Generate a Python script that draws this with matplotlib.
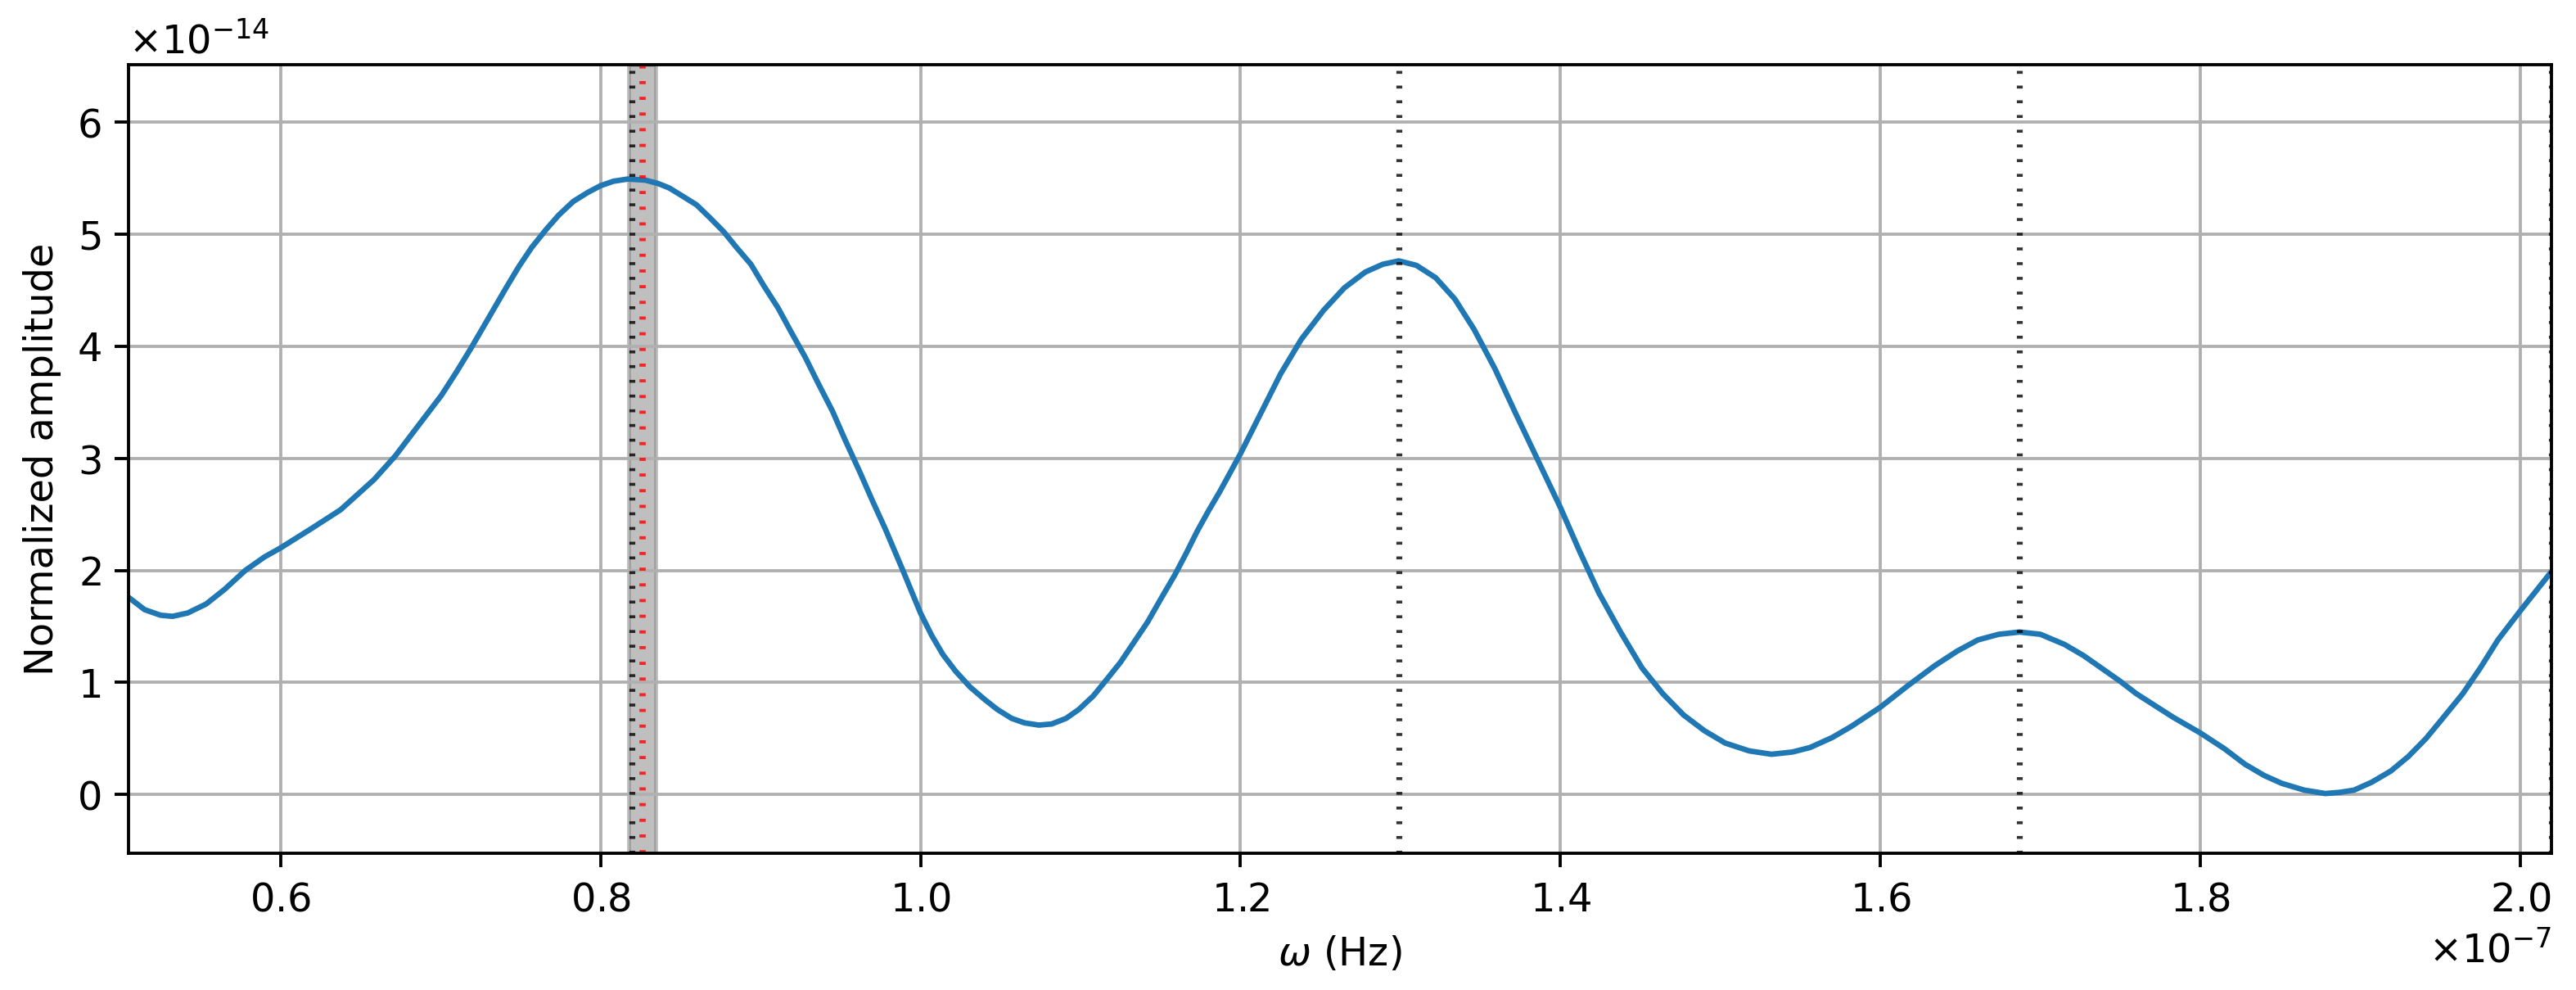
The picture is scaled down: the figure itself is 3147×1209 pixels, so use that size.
import numpy as np
import matplotlib
matplotlib.use('Agg')
import matplotlib.pyplot as plt

# Frequency axis (units of 1e-7 Hz) and normalized amplitude (units of 1e-14)
freq = [0.505, 0.515, 0.525, 0.5325, 0.542, 0.5535, 0.565, 0.578, 0.59, 0.60,
        0.619, 0.6375, 0.6585, 0.6717, 0.685, 0.7005, 0.710, 0.719, 0.732, 0.741,
        0.749, 0.757, 0.766, 0.774, 0.783, 0.792, 0.800, 0.808, 0.817, 0.828,
        0.836, 0.843, 0.851, 0.860, 0.868, 0.877, 0.885, 0.894, 0.902, 0.911,
        0.919, 0.928, 0.936, 0.945, 0.953, 0.962, 0.970, 0.978, 0.989, 1.0,
        1.007, 1.014, 1.022, 1.031, 1.040, 1.048, 1.057, 1.065, 1.074, 1.082,
        1.091, 1.099, 1.108, 1.116, 1.125, 1.133, 1.142, 1.150, 1.159, 1.166,
        1.173, 1.180, 1.187, 1.2, 1.212, 1.225, 1.238, 1.252, 1.265, 1.278,
        1.289, 1.299, 1.31, 1.322, 1.334, 1.346, 1.359, 1.372, 1.386, 1.40,
        1.412, 1.424, 1.438, 1.451, 1.464, 1.477, 1.490, 1.503, 1.518, 1.532,
        1.545, 1.556, 1.57, 1.582, 1.6, 1.617, 1.634, 1.648, 1.661, 1.674,
        1.687, 1.70, 1.715, 1.727, 1.738, 1.75, 1.76, 1.772, 1.783, 1.80,
        1.815, 1.828, 1.84, 1.851, 1.865, 1.878, 1.887, 1.896, 1.907, 1.919,
        1.93, 1.941, 1.952, 1.964, 1.975, 1.986, 2.0, 2.0195]
amp = [1.76, 1.65, 1.60, 1.59, 1.62, 1.70, 1.83, 2.00, 2.12, 2.20,
       2.37, 2.54, 2.81, 3.02, 3.27, 3.56, 3.77, 3.98, 4.30, 4.52,
       4.71, 4.88, 5.04, 5.17, 5.29, 5.37, 5.43, 5.47, 5.49, 5.48,
       5.45, 5.41, 5.34, 5.26, 5.15, 5.02, 4.88, 4.73, 4.54, 4.34,
       4.13, 3.90, 3.67, 3.42, 3.16, 2.88, 2.62, 2.37, 2.00, 1.62,
       1.42, 1.25, 1.10, 0.96, 0.85, 0.76, 0.68, 0.64, 0.62, 0.63,
       0.68, 0.76, 0.88, 1.02, 1.18, 1.35, 1.54, 1.74, 1.96, 2.15,
       2.35, 2.53, 2.70, 3.04, 3.38, 3.75, 4.06, 4.32, 4.52, 4.66,
       4.73, 4.76, 4.72, 4.61, 4.42, 4.15, 3.80, 3.40, 2.98, 2.56,
       2.17, 1.80, 1.44, 1.13, 0.90, 0.71, 0.57, 0.46, 0.39, 0.36,
       0.38, 0.42, 0.51, 0.61, 0.78, 0.97, 1.15, 1.28, 1.38, 1.43,
       1.45, 1.43, 1.34, 1.24, 1.13, 1.01, 0.90, 0.79, 0.69, 0.55,
       0.41, 0.27, 0.17, 0.10, 0.04, 0.01, 0.02, 0.04, 0.11, 0.21,
       0.34, 0.50, 0.69, 0.90, 1.13, 1.38, 1.64, 1.99]

# Detected peaks (black) and the reference frequency with its uncertainty band (red / grey)
peaks = [0.8194, 1.299, 1.687, 2.0195]
ref_freq = 0.8262
ref_band = [0.8178, 0.8345]

x_scale = 1e-7
y_scale = 1e-14

plt.rcParams['axes.formatter.use_mathtext'] = True

fig = plt.figure(figsize=(3147 / 345, 1209 / 345), dpi=345)  # generate figure
fig.set_facecolor('white')
ax = fig.add_axes([0.0499, 0.1381, 0.9406, 0.7966])

x = np.array(freq) * x_scale
y = np.array(amp) * y_scale

ax.plot(x, y, color='tab:blue', lw=1.4)  # spectrum
ax.axvspan(ref_band[0] * x_scale, ref_band[1] * x_scale, color='gray', alpha=0.5)  # band
ax.axvline(ref_freq * x_scale, color='red', alpha=0.8, lw=1.6, linestyle=(0, (0.5, 2.0)))
for p in peaks:
    ax.axvline(p * x_scale, color='k', alpha=0.8, lw=1.5, linestyle=(0, (0.5, 2.0)))

ax.set_xlim(freq[0] * x_scale, freq[-1] * x_scale)
ax.set_ylim(-0.523 * y_scale, 6.51 * y_scale)
ax.grid(True)
ax.set_xlabel(r'$\omega$ (Hz)')  # x-axis label
ax.set_ylabel('Normalized amplitude')  # y-axis label

plt.savefig('out.png', dpi=345)
